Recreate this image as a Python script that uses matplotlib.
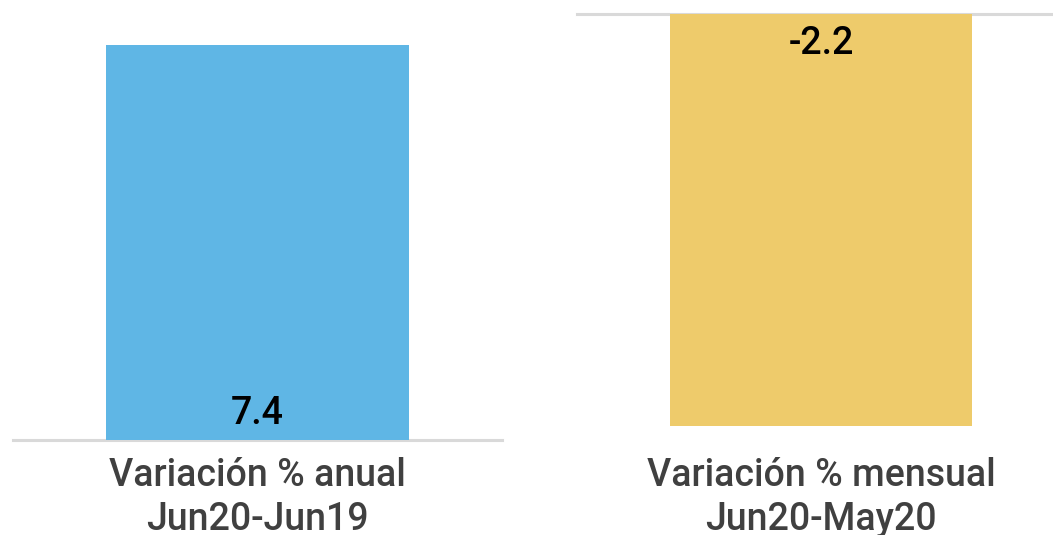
import matplotlib
matplotlib.use("Agg")
import matplotlib.pyplot as plt

plt.rcParams['font.family'] = ['Roboto', 'DejaVu Sans']

categories = ["Variación % anual\nJun20-Jun19", "Variación % mensual\nJun20-May20"]
values = [7.4, -2.2]
value_labels = ["7.4", "-2.2"]
colors = ["#5FB6E5", "#EECB6B"]

W, H = 1053, 535
fig = plt.figure(figsize=(W / 100, H / 100), dpi=100)

def px_axes(x0, y_top, x1, y_bot):
    return fig.add_axes([x0 / W, 1 - y_bot / H, (x1 - x0) / W, (y_bot - y_top) / H])

ax1 = px_axes(13, 45, 502, 440)
ax2 = px_axes(577, 14, 1065, 426)

for ax, cat, v, lab, c, pad in [
    (ax1, categories[0], values[0], value_labels[0], colors[0], 12.5),
    (ax2, categories[1], values[1], value_labels[1], colors[1], 22.5),
]:
    ax.bar([0], [v], width=0.619, color=c, zorder=2)
    ax.set_xlim(-0.5, 0.5)
    if v >= 0:
        ax.set_ylim(0, v)
        ax.annotate(lab, (0, 0), xytext=(0, 5.5), textcoords='offset points',
                    ha='center', va='bottom', fontsize=27, fontweight='medium',
                    color='black', zorder=3)
    else:
        ax.set_ylim(v, 0)
        ax.annotate(lab, (0, 0), xytext=(0, -8), textcoords='offset points',
                    ha='center', va='top', fontsize=27, fontweight='medium',
                    color='black', zorder=3)
    ax.axhline(0, color='#D9D9D9', linewidth=2.2, zorder=1, clip_on=False)
    for s in ax.spines.values():
        s.set_visible(False)
    ax.set_yticks([])
    ax.set_xticks([0])
    ax.set_xticklabels([cat], fontsize=27, fontweight='medium', color='#404040',
                       linespacing=1.22)
    ax.tick_params(axis='x', length=0, pad=pad)
    ax.patch.set_alpha(0)

fig.savefig("out.png", dpi=100)
